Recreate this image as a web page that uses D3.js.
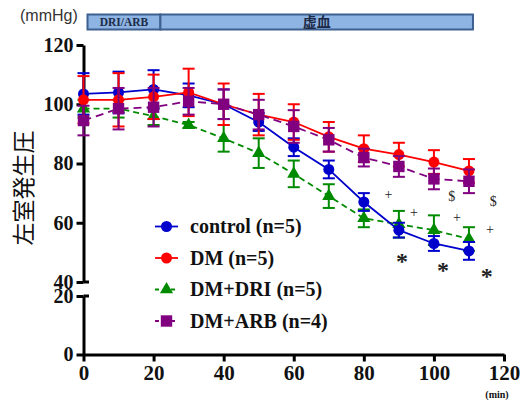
<!DOCTYPE html>
<html>
<head>
<meta charset="utf-8">
<script src="https://cdn.jsdelivr.net/npm/d3@7"></script>
<style>
  body { margin: 0; background: #fff; }
  svg { display: block; }
</style>
</head>
<body>
<svg id="chart" width="524" height="401"></svg>
<script>
// time points (min)
const times = [0, 10, 20, 30, 40, 50, 60, 70, 80, 90, 100, 110];

// mean values (mmHg) and SEM
const control    = [103.5, 104, 105, 103, 100, 94, 85.5, 78, 67, 57.5, 53, 50.5];
const controlErr = [7, 7, 6.5, 4, 5, 3, 3, 3, 3, 2.5, 2.5, 3];
const dm         = [101.5, 101.5, 102.5, 104, 100, 96.5, 94, 89, 85, 83, 80.5, 77.5];
const dmErr      = [8, 9, 7.5, 8, 7, 7, 6, 5, 4.5, 4, 4, 4];
const dri        = [98.5, 98.5, 96, 93, 88.5, 83.5, 76.5, 69, 61.5, 59.5, 57.5, 54.5];
const driErr     = [3, 3, 3, 1, 4.5, 5, 4.5, 4, 3, 4.5, 5, 4];
const arb        = [94.5, 98.5, 99, 101, 100, 96.5, 92.5, 88, 82, 79, 74.8, 74];
const arbErr     = [5, 7, 6.5, 4.5, 5, 5, 5.5, 4, 3, 3.5, 3.5, 4];

// axis ticks
const xTicks = [0, 20, 40, 60, 80, 100, 120];
const yTicksUpper = [40, 60, 80, 100, 120];
const yTicksLower = [0, 20];

// significance marks [time, value]
const plusMarks = [[87, 69.5], [94.3, 63.5], [106.6, 61.7], [116, 57.6]];
const dollarMarks = [[105.1, 68.8], [116.9, 67.1]];
const starMarks = [[90.9, 48.8], [102.6, 45.8], [115.1, 43.7]];

// protocol bar
const phases = [
    { label: 'DRI/ARB', from: 1, to: 21.8 },
    { label: '虚血', from: 21.8, to: 111 }
];

const series = [
    { name: 'DM+DRI (n=5)', values: dri, errs: driErr, color: '#008a00', dash: '6,4', shape: 'triangle', legend: 2 },
    { name: 'control (n=5)', values: control, errs: controlErr, color: '#0000cc', dash: null, shape: 'circle', legend: 0 },
    { name: 'DM (n=5)', values: dm, errs: dmErr, color: '#ff0000', dash: null, shape: 'circle', legend: 1 },
    { name: 'DM+ARB (n=4)', values: arb, errs: arbErr, color: '#800080', dash: '8,5', shape: 'square', legend: 3 }
];

const SERIF = "'Liberation Serif', 'Times New Roman', serif";
const CJK = "'Noto Sans CJK JP', sans-serif";

const svg = d3.select('#chart');

const x = d3.scaleLinear().domain([0, 120]).range([83.5, 504]);
const yUp = d3.scaleLinear().domain([40, 120]).range([282, 45]);
const yLow = d3.scaleLinear().domain([0, 20]).range([354.5, 296]);

const symbolFor = shape => {
    if (shape === 'triangle') return d3.symbol().type(d3.symbolTriangle).size(75)();
    if (shape === 'square') return d3.symbol().type(d3.symbolSquare).size(130)();
    return d3.symbol().type(d3.symbolCircle).size(95)();
};

// protocol bar at the top
const bar = svg.append('g');
bar.selectAll('rect')
    .data(phases)
    .enter()
    .append('rect')
    .attr('x', d => x(d.from) + 0.5)
    .attr('y', 14.5)
    .attr('width', d => x(d.to) - x(d.from))
    .attr('height', 15)
    .attr('fill', '#8db4e2')
    .attr('stroke', '#3d6090')
    .attr('stroke-width', 2);
bar.selectAll('text')
    .data(phases)
    .enter()
    .append('text')
    .attr('x', d => (x(d.from) + x(d.to)) / 2 + 0.5)
    .attr('y', 22)
    .attr('dy', '0.36em')
    .attr('text-anchor', 'middle')
    .style('font-family', d => d.label === '虚血' ? CJK : SERIF)
    .style('font-weight', 'bold')
    .style('font-size', d => d.label === '虚血' ? '14px' : '11.5px')
    .attr('fill', '#1c2a48')
    .text(d => d.label);

// unit label
svg.append('text')
    .attr('x', 20)
    .attr('y', 21)
    .style('font-family', "'Liberation Sans', Arial, sans-serif")
    .style('font-size', '16px')
    .attr('fill', '#333')
    .text('(mmHg)');

// y axis title
svg.append('text')
    .attr('transform', 'translate(24,188) rotate(-90)')
    .attr('text-anchor', 'middle')
    .attr('dy', '0.36em')
    .style('font-family', CJK)
    .style('font-size', '23px')
    .attr('fill', '#111')
    .text('左室発生圧');

// axes
const styleAxis = size => g => {
    g.select('.domain').attr('stroke', '#000').attr('stroke-width', 3);
    g.selectAll('.tick line').attr('stroke', '#000').attr('stroke-width', 3);
    g.selectAll('.tick text')
        .attr('fill', '#111')
        .style('font-family', SERIF)
        .style('font-weight', 'bold')
        .style('font-size', size + 'px');
};

svg.append('g')
    .attr('transform', 'translate(83.5,0)')
    .call(d3.axisLeft(yUp).tickValues(yTicksUpper).tickSize(7).tickSizeOuter(0).tickPadding(3))
    .call(styleAxis(20));

svg.append('g')
    .attr('transform', 'translate(83.5,0)')
    .call(d3.axisLeft(yLow).tickValues(yTicksLower).tickSize(7).tickSizeOuter(0).tickPadding(3))
    .call(styleAxis(20));

// break caps on the right side of the y axis
svg.selectAll('line.brk')
    .data([yUp(40), yLow(20)])
    .enter()
    .append('line')
    .attr('class', 'brk')
    .attr('x1', 83.5)
    .attr('x2', 89)
    .attr('y1', d => d)
    .attr('y2', d => d)
    .attr('stroke', '#000')
    .attr('stroke-width', 3);

svg.append('g')
    .attr('transform', `translate(0,${yLow(0)})`)
    .call(d3.axisBottom(x).tickValues(xTicks).tickSize(7).tickSizeOuter(0).tickPadding(4))
    .call(styleAxis(21));

svg.append('text')
    .attr('x', 497)
    .attr('y', 398)
    .attr('text-anchor', 'middle')
    .style('font-family', SERIF)
    .style('font-weight', 'bold')
    .style('font-size', '10px')
    .attr('fill', '#111')
    .text('(min)');

// data series
const line = d3.line()
    .x((d, i) => x(times[i]))
    .y(d => yUp(d));

series.forEach(s => {
    const g = svg.append('g');
    const pts = times.map((t, i) => ({ t, v: s.values[i], e: s.errs[i] }));

    g.append('path')
        .datum(s.values)
        .attr('d', line)
        .attr('fill', 'none')
        .attr('stroke', s.color)
        .attr('stroke-width', 1.8)
        .attr('stroke-dasharray', s.dash);

    // error bars
    g.selectAll('line.err')
        .data(pts)
        .enter()
        .append('line')
        .attr('class', 'err')
        .attr('x1', d => x(d.t))
        .attr('x2', d => x(d.t))
        .attr('y1', d => yUp(d.v + d.e))
        .attr('y2', d => yUp(d.v - d.e))
        .attr('stroke', s.color)
        .attr('stroke-width', 2);
    [1, -1].forEach(sign => {
        g.selectAll(null)
            .data(pts)
            .enter()
            .append('line')
            .attr('x1', d => x(d.t) - 6)
            .attr('x2', d => x(d.t) + 6)
            .attr('y1', d => yUp(d.v + sign * d.e))
            .attr('y2', d => yUp(d.v + sign * d.e))
            .attr('stroke', s.color)
            .attr('stroke-width', 2);
    });

    g.selectAll('path.mk')
        .data(pts)
        .enter()
        .append('path')
        .attr('class', 'mk')
        .attr('d', symbolFor(s.shape))
        .attr('transform', d => `translate(${x(d.t)},${yUp(d.v)})`)
        .attr('fill', s.color);
});

// significance marks
const addMarks = (marks, ch, size, weight, dy) => {
    svg.selectAll(null)
        .data(marks)
        .enter()
        .append('text')
        .attr('x', d => x(d[0]))
        .attr('y', d => yUp(d[1]))
        .attr('dy', dy)
        .attr('text-anchor', 'middle')
        .style('font-family', SERIF)
        .style('font-weight', weight)
        .style('font-size', size + 'px')
        .attr('fill', '#222')
        .text(ch);
};
addMarks(plusMarks, '+', 14, 'normal', '0.3em');
addMarks(dollarMarks, '$', 14, 'normal', '0.33em');
addMarks(starMarks, '*', 24, 'bold', '0.55em');

// legend
const legend = svg.append('g');
const legendRows = series.slice().sort((a, b) => a.legend - b.legend);
legendRows.forEach((s, i) => {
    const cy = 226.5 + i * 31.5;
    legend.append('line')
        .attr('x1', 155)
        .attr('x2', 178)
        .attr('y1', cy)
        .attr('y2', cy)
        .attr('stroke', s.color)
        .attr('stroke-width', 1.8)
        .attr('stroke-dasharray', s.dash ? '4,4' : null);
    legend.append('path')
        .attr('d', symbolFor(s.shape))
        .attr('transform', `translate(166.5,${cy})`)
        .attr('fill', s.color);
    legend.append('text')
        .attr('x', 190)
        .attr('y', cy)
        .attr('dy', '0.34em')
        .style('font-family', SERIF)
        .style('font-weight', 'bold')
        .style('font-size', '20px')
        .attr('fill', '#111')
        .text(s.name);
});
</script>
</body>
</html>
